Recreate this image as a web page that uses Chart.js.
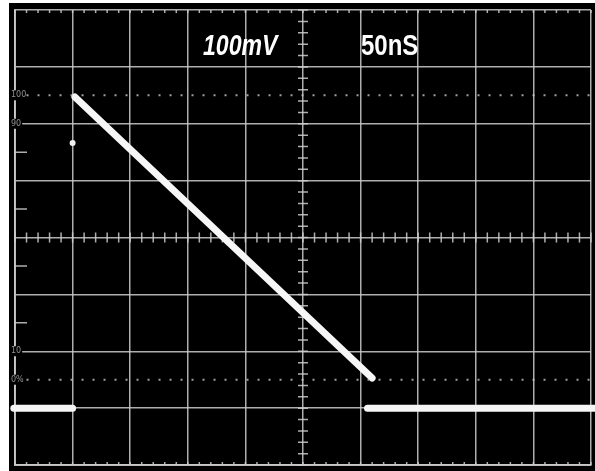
<!DOCTYPE html>
<html>
<head>
<meta charset="utf-8">
<script src="https://cdn.jsdelivr.net/npm/chart.js@4/dist/chart.umd.min.js"></script>
<style>
  html, body { margin: 0; padding: 0; background: #fff; }
  canvas { display: block; }
</style>
</head>
<body>
<canvas id="scope" width="595" height="471"></canvas>
<script>
// screen ranges: 10 div x 50 ns, 8 div x 100 mV
const xRange = [0, 500];
const yRange = [-400, 400];

// trace pieces (ns, mV)
const lowLeftX = [-1, 50];
const lowLeftY = [-300, -300];
const rampX = [52, 310];
const rampY = [247, -247];
const lowRightX = [306, 504];
const lowRightY = [-300, -300];
const strayX = [50];
const strayY = [166];

// 100% / 0% dotted reference lines and graticule marks
const refLevels = [250, -250];
const levelLabels = ['100', '90', '10', '0%'];
const levelValues = [250, 200, -200, -250];
const halfDivTicks = [150, 50, -50, -150];

const voltsLabel = '100mV';
const timeLabel = '50nS';

function pts(xs, ys) {
    return xs.map((x, i) => ({ x: x, y: ys[i] }));
}

const gridColor = 'rgba(205,205,205,0.85)';

const scopeScreen = {
    id: 'scopeScreen',
    beforeDraw(chart) {
        const c = chart.ctx;
        c.save();
        c.fillStyle = '#fff';
        c.fillRect(0, 0, chart.width, chart.height);
        c.fillStyle = '#000';
        c.fillRect(9, 3, chart.width - 9, chart.height - 3);
        c.restore();
    },
    beforeDatasetsDraw(chart) {
        const c = chart.ctx;
        const xs = chart.scales.x, ys = chart.scales.y;
        const a = chart.chartArea;
        const cx = xs.getPixelForValue(250), cy = ys.getPixelForValue(0);
        c.save();
        c.strokeStyle = gridColor;
        c.lineWidth = 1.5;
        c.beginPath();
        // minor marks on the centre lines
        for (let v = yRange[0]; v <= yRange[1]; v += 20) {
            const p = ys.getPixelForValue(v);
            c.moveTo(cx - 5, p); c.lineTo(cx + 5, p);
        }
        for (let t = xRange[0]; t <= xRange[1]; t += 10) {
            const p = xs.getPixelForValue(t);
            c.moveTo(p, cy - 5); c.lineTo(p, cy + 5);
            c.moveTo(p, a.top); c.lineTo(p, a.top + 3);
            c.moveTo(p, a.bottom); c.lineTo(p, a.bottom - 3);
        }
        // half-division marks on the left edge
        halfDivTicks.forEach(v => {
            const p = ys.getPixelForValue(v);
            c.moveTo(a.left, p); c.lineTo(a.left + 12, p);
        });
        c.stroke();
        // level labels
        c.font = '8px "DejaVu Sans"';
        c.textBaseline = 'middle';
        levelLabels.forEach((s, i) => {
            const p = ys.getPixelForValue(levelValues[i]);
            c.fillStyle = '#000';
            const w = c.measureText(s).width;
            c.fillRect(10, p - 5, w + 2, 10);
            c.fillStyle = 'rgba(170,170,170,0.85)';
            c.fillText(s, 11, p);
        });
        c.restore();
    },
    afterDraw(chart) {
        const c = chart.ctx;
        c.save();
        c.fillStyle = '#fff';
        c.textBaseline = 'alphabetic';
        c.font = 'italic bold 30px "Liberation Sans"';
        c.translate(203, 55);
        c.scale(0.77, 1);
        c.fillText(voltsLabel, 0, 0);
        c.restore();
        c.save();
        c.fillStyle = '#fff';
        c.font = 'bold 30px "Liberation Sans"';
        c.translate(361, 55);
        c.scale(0.8, 1);
        c.fillText(timeLabel, 0, 0);
        c.restore();
    }
};

const traceStyle = {
    borderColor: '#f6f6f6',
    borderWidth: 7,
    borderCapStyle: 'round',
    pointRadius: 0,
    fill: false,
    clip: false
};

const refStyle = {
    borderColor: 'rgba(200,200,200,0.8)',
    borderWidth: 2,
    borderDash: [2, 9],
    pointRadius: 0,
    fill: false
};

new Chart(document.getElementById('scope'), {
    type: 'line',
    data: {
        datasets: [
            Object.assign({ data: pts([10, 500], [refLevels[0], refLevels[0]]) }, refStyle),
            Object.assign({ data: pts([10, 500], [refLevels[1], refLevels[1]]) }, refStyle),
            Object.assign({ data: pts(lowLeftX, lowLeftY) }, traceStyle),
            Object.assign({ data: pts(rampX, rampY) }, traceStyle),
            Object.assign({ data: pts(lowRightX, lowRightY) }, traceStyle),
            {
                data: pts(strayX, strayY),
                showLine: false,
                pointRadius: 3,
                pointBackgroundColor: '#eee',
                pointBorderWidth: 0,
                clip: false
            }
        ]
    },
    options: {
        responsive: false,
        animation: false,
        devicePixelRatio: 1,
        layout: { padding: { left: 15, top: 10, right: 4, bottom: 6 } },
        plugins: { legend: { display: false }, tooltip: { enabled: false } },
        scales: {
            x: {
                type: 'linear',
                min: xRange[0], max: xRange[1],
                ticks: { display: false, stepSize: 50 },
                grid: { color: gridColor, lineWidth: 1.5, drawTicks: false },
                border: { color: gridColor, width: 2 }
            },
            y: {
                type: 'linear',
                min: yRange[0], max: yRange[1],
                ticks: { display: false, stepSize: 100 },
                grid: { color: gridColor, lineWidth: 1.5, drawTicks: false },
                border: { color: gridColor, width: 2 }
            }
        }
    },
    plugins: [scopeScreen]
});
</script>
</body>
</html>
